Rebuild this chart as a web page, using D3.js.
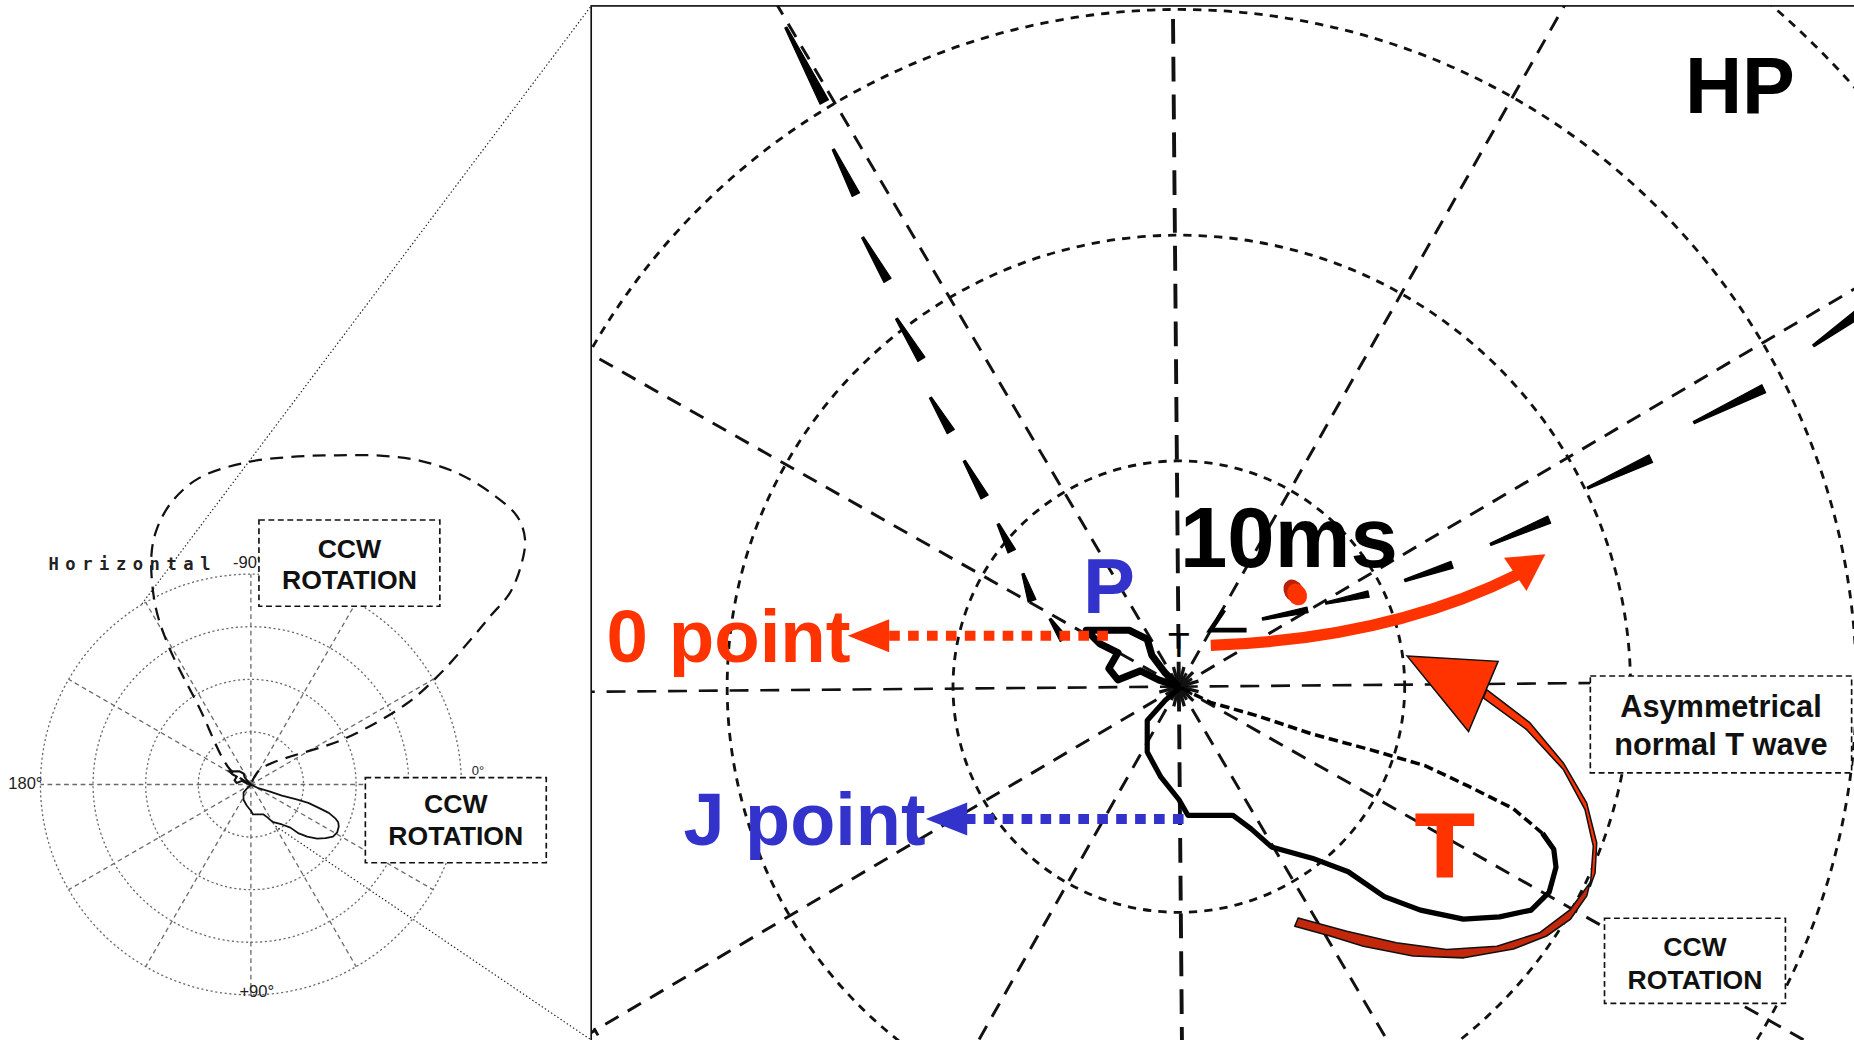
<!DOCTYPE html>
<html><head><meta charset="utf-8">
<script src="https://cdn.jsdelivr.net/npm/d3@7"></script>
<style>html,body{margin:0;padding:0;background:#fff;overflow:hidden}</style>
</head><body>
<svg id="fig" width="1854" height="1040" viewBox="0 0 1568 880" preserveAspectRatio="none"></svg>
<script>
// ---------------- DATA (units: radius of first ring = 1) ----------------
const ringLevels = [1, 2, 3, 4];
const spokeAngles = [0, 30, 60, 90, 120, 150, 180, 210, 240, 270, 300, 330];
const leftAxisLabels = ["0°", "+90°", "180°", "-90°"];
const boxLabels = ["CCW", "ROTATION"];
const tWaveLabels = ["Asymmetrical", "normal T wave"];

// QRS loop (left, overview panel) [x, y]
const qrsLoopLeft = [
  [0,0],[-0.40,-0.29],[-0.98,-1.46],[-1.56,-2.62],[-1.82,-3.42],[-1.89,-4.37],
  [-1.78,-4.88],[-1.49,-5.39],[-0.98,-5.83],[-0.11,-6.12],[0.77,-6.23],[1.64,-6.26],
  [2.51,-6.25],[3.24,-6.15],[3.97,-5.90],[4.62,-5.50],[5.06,-5.10],[5.21,-4.66],
  [5.13,-4.15],[4.92,-3.64],[4.55,-3.20],[4.19,-2.77],[3.60,-2.11],[2.95,-1.53],
  [1.78,-0.87],[0.18,-0.29],[0,0]
];
// T loop, outgoing (lower) limb and returning (upper) limb
const tLoopOut = [
  [0.01,0.00],[-0.06,0.06],[-0.14,0.15],[-0.14,0.29],[-0.08,0.40],[0.00,0.50],
  [0.04,0.57],[0.24,0.57],[0.32,0.63],[0.41,0.71],[0.59,0.76],[0.75,0.82],
  [0.91,0.93],[1.07,0.99],[1.26,1.03],[1.42,1.02],[1.56,0.99],[1.64,0.91],
  [1.67,0.80],[1.66,0.72],[1.61,0.65]
];
const tLoopBack = [
  [1.61,0.65],[1.48,0.54],[1.28,0.44],[1.09,0.35],[0.85,0.28],[0.59,0.21],
  [0.35,0.13],[0.14,0.07],[0,0]
];
// P loop
const pLoop = [
  [0,0],[-0.06,-0.06],[-0.12,-0.14],[-0.14,-0.21],[-0.22,-0.25],[-0.32,-0.25],
  [-0.41,-0.25],[-0.35,-0.19],[-0.27,-0.15],[-0.31,-0.08],[-0.27,-0.03],
  [-0.17,-0.07],[-0.09,-0.03],[0,0]
];
// QRS time-marked dashes (magnified panel) [x0, y0, x1, y1]
const qrsOutDashes = [
  [-1.74,-2.92,-1.57,-2.59],[-1.53,-2.38,-1.43,-2.18],[-1.40,-1.99,-1.29,-1.80],
  [-1.25,-1.63,-1.14,-1.45],[-1.10,-1.28,-1.01,-1.13],[-0.95,-1.00,-0.86,-0.84],
  [-0.80,-0.72,-0.74,-0.60],[-0.69,-0.50,-0.65,-0.38],[-0.57,-0.30,-0.51,-0.21]
];
const qrsReturnDashes = [
  [0.37,-0.30,0.57,-0.34],[0.65,-0.37,0.84,-0.41],[1.00,-0.47,1.21,-0.54],
  [1.38,-0.63,1.64,-0.74],[1.81,-0.88,2.09,-1.01],[2.28,-1.17,2.59,-1.32],
  [2.81,-1.51,3.02,-1.66]
];
const qrsHook = [[0.20,-0.34],[0.14,-0.25],[0.30,-0.25]];

// ---------------- SETUP ----------------
const svg = d3.select("#fig");
const FONT = "'Liberation Sans', Arial, Helvetica, sans-serif";
const RED = "#ff3300", BLUE = "#3333cc", DARKRED = "#c4280c";
const rad = a => a * Math.PI / 180;
const defs = svg.append("defs");
svg.append("rect").attr("width", 1568).attr("height", 880).attr("fill", "#fff");
const poly = d3.line().curve(d3.curveLinearClosed);

// ---------------- LEFT PANEL ----------------
const L = {cx: 212.2, cy: 663.8, unit: 44.5};
const xL = d3.scaleLinear().domain([0, 1]).range([L.cx, L.cx + L.unit]);
const yL = d3.scaleLinear().domain([0, 1]).range([L.cy, L.cy + L.unit]);
const rL = d3.scaleLinear().domain([0, 1]).range([0, L.unit]);
const maxRing = d3.max(ringLevels);
const gL = svg.append("g");

gL.selectAll("circle.ring").data(ringLevels).join("circle")
  .attr("cx", xL(0)).attr("cy", yL(0)).attr("r", d => rL(d))
  .attr("fill", "none").attr("stroke", "#6a6a6a").attr("stroke-width", 1.1)
  .attr("stroke-dasharray", "1.8,2.2");
gL.selectAll("line.spoke").data(spokeAngles).join("line")
  .attr("x1", xL(0)).attr("y1", yL(0))
  .attr("x2", d => xL(maxRing * Math.cos(rad(d))))
  .attr("y2", d => yL(maxRing * Math.sin(rad(d))))
  .attr("stroke", "#6a6a6a").attr("stroke-width", 1.1).attr("stroke-dasharray", "4,3");

const lineL = d3.line().x(d => xL(d[0])).y(d => yL(d[1]));
gL.append("path").datum(qrsLoopLeft)
  .attr("d", lineL.curve(d3.curveCatmullRom.alpha(0.5)))
  .attr("fill", "none").attr("stroke", "#111").attr("stroke-width", 1.9)
  .attr("stroke-dasharray", "11,7");
const lineL2 = d3.line().x(d => xL(d[0])).y(d => yL(d[1])).curve(d3.curveLinear);
gL.append("path").datum(tLoopOut.concat(tLoopBack)).attr("d", lineL2)
  .attr("fill", "none").attr("stroke", "#111").attr("stroke-width", 1.5).attr("stroke-linejoin", "round");
gL.append("path").datum(pLoop).attr("d", lineL2)
  .attr("fill", "none").attr("stroke", "#111").attr("stroke-width", 1.8);

// axis labels
const lblFont = "'Liberation Sans Narrow', 'Liberation Sans', Arial, sans-serif";
const lblPos = [[399, 656], [202.5, 844], [7, 668], [197, 481]];
gL.selectAll("text.ax").data(leftAxisLabels).join("text")
  .attr("x", (d, i) => lblPos[i][0]).attr("y", (d, i) => lblPos[i][1])
  .attr("font-family", lblFont).attr("font-size", (d, i) => i === 0 ? 11 : 14)
  .attr("fill", "#222").text(d => d);
gL.append("text").attr("x", 41).attr("y", 482)
  .attr("font-family", "'DejaVu Sans Mono', monospace").attr("font-size", 14.5)
  .attr("font-weight", "bold").attr("fill", "#222")
  .attr("textLength", 137).attr("lengthAdjust", "spacing")
  .text("Horizontal");

// zoom guide lines
svg.append("line").attr("x1", 120).attr("y1", 511).attr("x2", 500).attr("y2", 5)
  .attr("stroke", "#222").attr("stroke-width", 1).attr("stroke-dasharray", "1.2,2");
svg.append("line").attr("x1", 233).attr("y1", 699).attr("x2", 500).attr("y2", 880)
  .attr("stroke", "#222").attr("stroke-width", 1).attr("stroke-dasharray", "1.2,2");

function dashedBox(g, x, y, w, h, lines, fs, b1, b2) {
  g.append("rect").attr("x", x).attr("y", y).attr("width", w).attr("height", h)
    .attr("fill", "#fff").attr("stroke", "#111").attr("stroke-width", 1.4)
    .attr("stroke-dasharray", "5,3");
  g.selectAll(null).data(lines).join("text")
    .attr("x", x + w / 2).attr("y", (d, i) => i === 0 ? b1 : b2)
    .attr("text-anchor", "middle").attr("font-family", FONT).attr("font-weight", "bold")
    .attr("font-size", fs).attr("fill", "#111").text(d => d);
}
dashedBox(svg, 219, 440, 153, 73, boxLabels, 22.5, 472, 498);
dashedBox(svg, 309, 658, 153, 72, boxLabels, 22.5, 688, 715);

// ---------------- RIGHT PANEL ----------------
const R = {cx: 997, cy: 581, unit: 191};
const xR = d3.scaleLinear().domain([0, 1]).range([R.cx, R.cx + R.unit]);
const yR = d3.scaleLinear().domain([0, 1]).range([R.cy, R.cy + R.unit]);
const rR = d3.scaleLinear().domain([0, 1]).range([0, R.unit]);

defs.append("clipPath").attr("id", "clipR").append("rect")
  .attr("x", 500).attr("y", 5).attr("width", 1070).attr("height", 877);
svg.append("rect").attr("x", 500).attr("y", 5).attr("width", 1075).attr("height", 880)
  .attr("fill", "#fff");
const gR = svg.append("g").attr("clip-path", "url(#clipR)");
const grid = gR.append("g").attr("transform", `rotate(-0.5,${R.cx},${R.cy})`);

grid.selectAll("circle.ring").data(ringLevels).join("circle")
  .attr("cx", xR(0)).attr("cy", yR(0)).attr("r", d => rR(d))
  .attr("fill", "none").attr("stroke", "#111").attr("stroke-width", 2.4)
  .attr("stroke-dasharray", "7,6");
grid.selectAll("line.spoke").data(spokeAngles).join("line")
  .attr("x1", xR(0)).attr("y1", yR(0))
  .attr("x2", d => xR(5 * Math.cos(rad(d))))
  .attr("y2", d => yR(5 * Math.sin(rad(d))))
  .attr("stroke", "#111")
  .attr("stroke-width", d => d % 180 === 90 ? 3.3 : (d % 180 === 0 ? 2.2 : 2.5))
  .attr("stroke-dasharray", d => d % 180 === 90 ? "21,11" : (d % 180 === 0 ? "16,10" : "13,9"));
grid.selectAll("line.hub").data(spokeAngles).join("line")
  .attr("x1", xR(0)).attr("y1", yR(0))
  .attr("x2", d => xR(0.09 * Math.cos(rad(d + 15))))
  .attr("y2", d => yR(0.09 * Math.sin(rad(d + 15))))
  .attr("stroke", "#111").attr("stroke-width", 2.8);

// tapered time-marked dashes
function taper(d, w0, w1) {
  const x0 = xR(d[0]), y0 = yR(d[1]), x1 = xR(d[2]), y1 = yR(d[3]);
  const len = Math.hypot(x1 - x0, y1 - y0), nx = -(y1 - y0) / len, ny = (x1 - x0) / len;
  return [[x0 + nx * w0 / 2, y0 + ny * w0 / 2], [x1 + nx * w1 / 2, y1 + ny * w1 / 2],
          [x1 - nx * w1 / 2, y1 - ny * w1 / 2], [x0 - nx * w0 / 2, y0 - ny * w0 / 2]];
}
gR.selectAll("path.outd").data(qrsOutDashes).join("path")
  .attr("d", (d, i) => poly(taper(d, 2, i === 0 ? 8 : 7)))
  .attr("fill", "#000").attr("stroke", "#000").attr("stroke-width", 1).attr("stroke-linejoin", "round");
gR.selectAll("path.retd").data(qrsReturnDashes).join("path")
  .attr("d", (d, i) => poly(taper(d, 2, 5 + i * 0.5)))
  .attr("fill", "#000").attr("stroke", "#000").attr("stroke-width", 1).attr("stroke-linejoin", "round");

const lineR = d3.line().x(d => xR(d[0])).y(d => yR(d[1])).curve(d3.curveLinear);
gR.append("path").datum(qrsHook).attr("d", lineR).attr("fill", "none")
  .attr("stroke", "#000").attr("stroke-width", 4);
gR.append("path").datum(pLoop).attr("d", lineR).attr("fill", "none")
  .attr("stroke", "#000").attr("stroke-width", 6).attr("stroke-linejoin", "round");
gR.append("path").datum(tLoopOut).attr("d", lineR).attr("fill", "none")
  .attr("stroke", "#000").attr("stroke-width", 4.4).attr("stroke-linejoin", "round");
gR.append("path").datum(tLoopBack).attr("d", lineR).attr("fill", "none")
  .attr("stroke", "#000").attr("stroke-width", 3).attr("stroke-dasharray", "8,4");
gR.append("text").attr("x", xR(0)).attr("y", 556).attr("text-anchor", "middle")
  .attr("font-family", FONT).attr("font-size", 30).attr("fill", "#000").text("T");

// panel border
svg.append("rect").attr("x", 500).attr("y", 5).attr("width", 1080).attr("height", 890)
  .attr("fill", "none").attr("stroke", "#111").attr("stroke-width", 1.4);

// ---- annotations ----
const ann = svg.append("g");
// 0 point arrow
ann.append("line").attr("x1", 937).attr("y1", 538).attr("x2", 748).attr("y2", 538)
  .attr("stroke", RED).attr("stroke-width", 8.5).attr("stroke-dasharray", "9,7");
ann.append("path").attr("d", poly([[717, 538], [752, 524], [752, 552]])).attr("fill", RED);
ann.append("text").attr("x", 513).attr("y", 560).attr("font-family", FONT)
  .attr("font-weight", "bold").attr("font-size", 63).attr("fill", RED).text("0 point");
// J point arrow
ann.append("line").attr("x1", 1001).attr("y1", 693).attr("x2", 814).attr("y2", 693)
  .attr("stroke", BLUE).attr("stroke-width", 8.5).attr("stroke-dasharray", "9,7");
ann.append("path").attr("d", poly([[783, 693], [818, 679], [818, 707]])).attr("fill", BLUE);
ann.append("text").attr("x", 578).attr("y", 715).attr("font-family", FONT)
  .attr("font-weight", "bold").attr("font-size", 62.5).attr("fill", BLUE).text("J point");
// P label
ann.append("text").attr("x", 916).attr("y", 519).attr("font-family", FONT)
  .attr("font-weight", "bold").attr("font-size", 66).attr("fill", BLUE).text("P");
// 10ms
ann.append("text").attr("x", 998).attr("y", 480).attr("font-family", FONT)
  .attr("font-weight", "bold").attr("font-size", 72).attr("fill", "#000").text("10ms");
// red dot
ann.append("ellipse").attr("cx", 1094).attr("cy", 500).attr("rx", 8).attr("ry", 10)
  .attr("transform", "rotate(-30,1094,500)").attr("fill", "#b82008");
ann.append("ellipse").attr("cx", 1097).attr("cy", 503).attr("rx", 8).attr("ry", 9.5)
  .attr("transform", "rotate(-30,1097,503)").attr("fill", RED);
// upper curved arrow
ann.append("path").attr("d", "M1024,546 C1110,543 1200,528 1284,486")
  .attr("fill", "none").attr("stroke", RED).attr("stroke-width", 9.5);
ann.append("path").attr("d", poly([[1307, 469], [1272, 472], [1291, 500]])).attr("fill", RED);
// big ribbon arrow (back, dark part)
const ribLine = d3.line().curve(d3.curveLinearClosed);
const backRib = [[1345,746],[1342,758],[1328,778],[1308,792],[1280,803],[1238,810.5],[1195,809],
                 [1153,800.6],[1125,792],[1095,783.7],[1098,776.7],[1139,788],[1181,797.8],
                 [1223.5,803.4],[1266,800.6],[1302,789.3],[1328,769.6],[1344.7,747]];
ann.append("path").attr("d", ribLine(backRib))
  .attr("fill", DARKRED).attr("stroke", "#111").attr("stroke-width", 1.3).attr("stroke-linejoin", "round");
// front, bright part
const frontRib = [[1257.3,583.6],[1294,611.7],[1322.2,645.6],[1341.9,679.4],[1350.4,713.2],
                  [1349,738.6],[1345,750],[1347.5,716],[1340.5,685],[1322.2,651.2],
                  [1291.2,617.4],[1254.5,590.6]];
ann.append("path").attr("d", ribLine(frontRib))
  .attr("fill", RED).attr("stroke", "#111").attr("stroke-width", 1.3).attr("stroke-linejoin", "round");
ann.append("path").attr("d", poly([[1190, 555], [1267, 559.6], [1242, 619]]))
  .attr("fill", RED).attr("stroke", "#111").attr("stroke-width", 1.3).attr("stroke-linejoin", "miter");
// T label
ann.append("text").attr("x", 1222).attr("y", 742).attr("text-anchor", "middle")
  .attr("font-family", "'DejaVu Sans', sans-serif").attr("font-weight", "bold")
  .attr("font-size", 74).attr("fill", RED).text("T");
// HP
ann.append("text").attr("x", 1425).attr("y", 96).attr("font-family", FONT)
  .attr("font-weight", "bold").attr("font-size", 67).attr("fill", "#000").text("HP");
// boxes
dashedBox(ann, 1345, 572, 221, 82, tWaveLabels, 26, 607, 639);
dashedBox(ann, 1357, 777, 153, 72, boxLabels, 22.5, 809, 837);
</script>
</body></html>
